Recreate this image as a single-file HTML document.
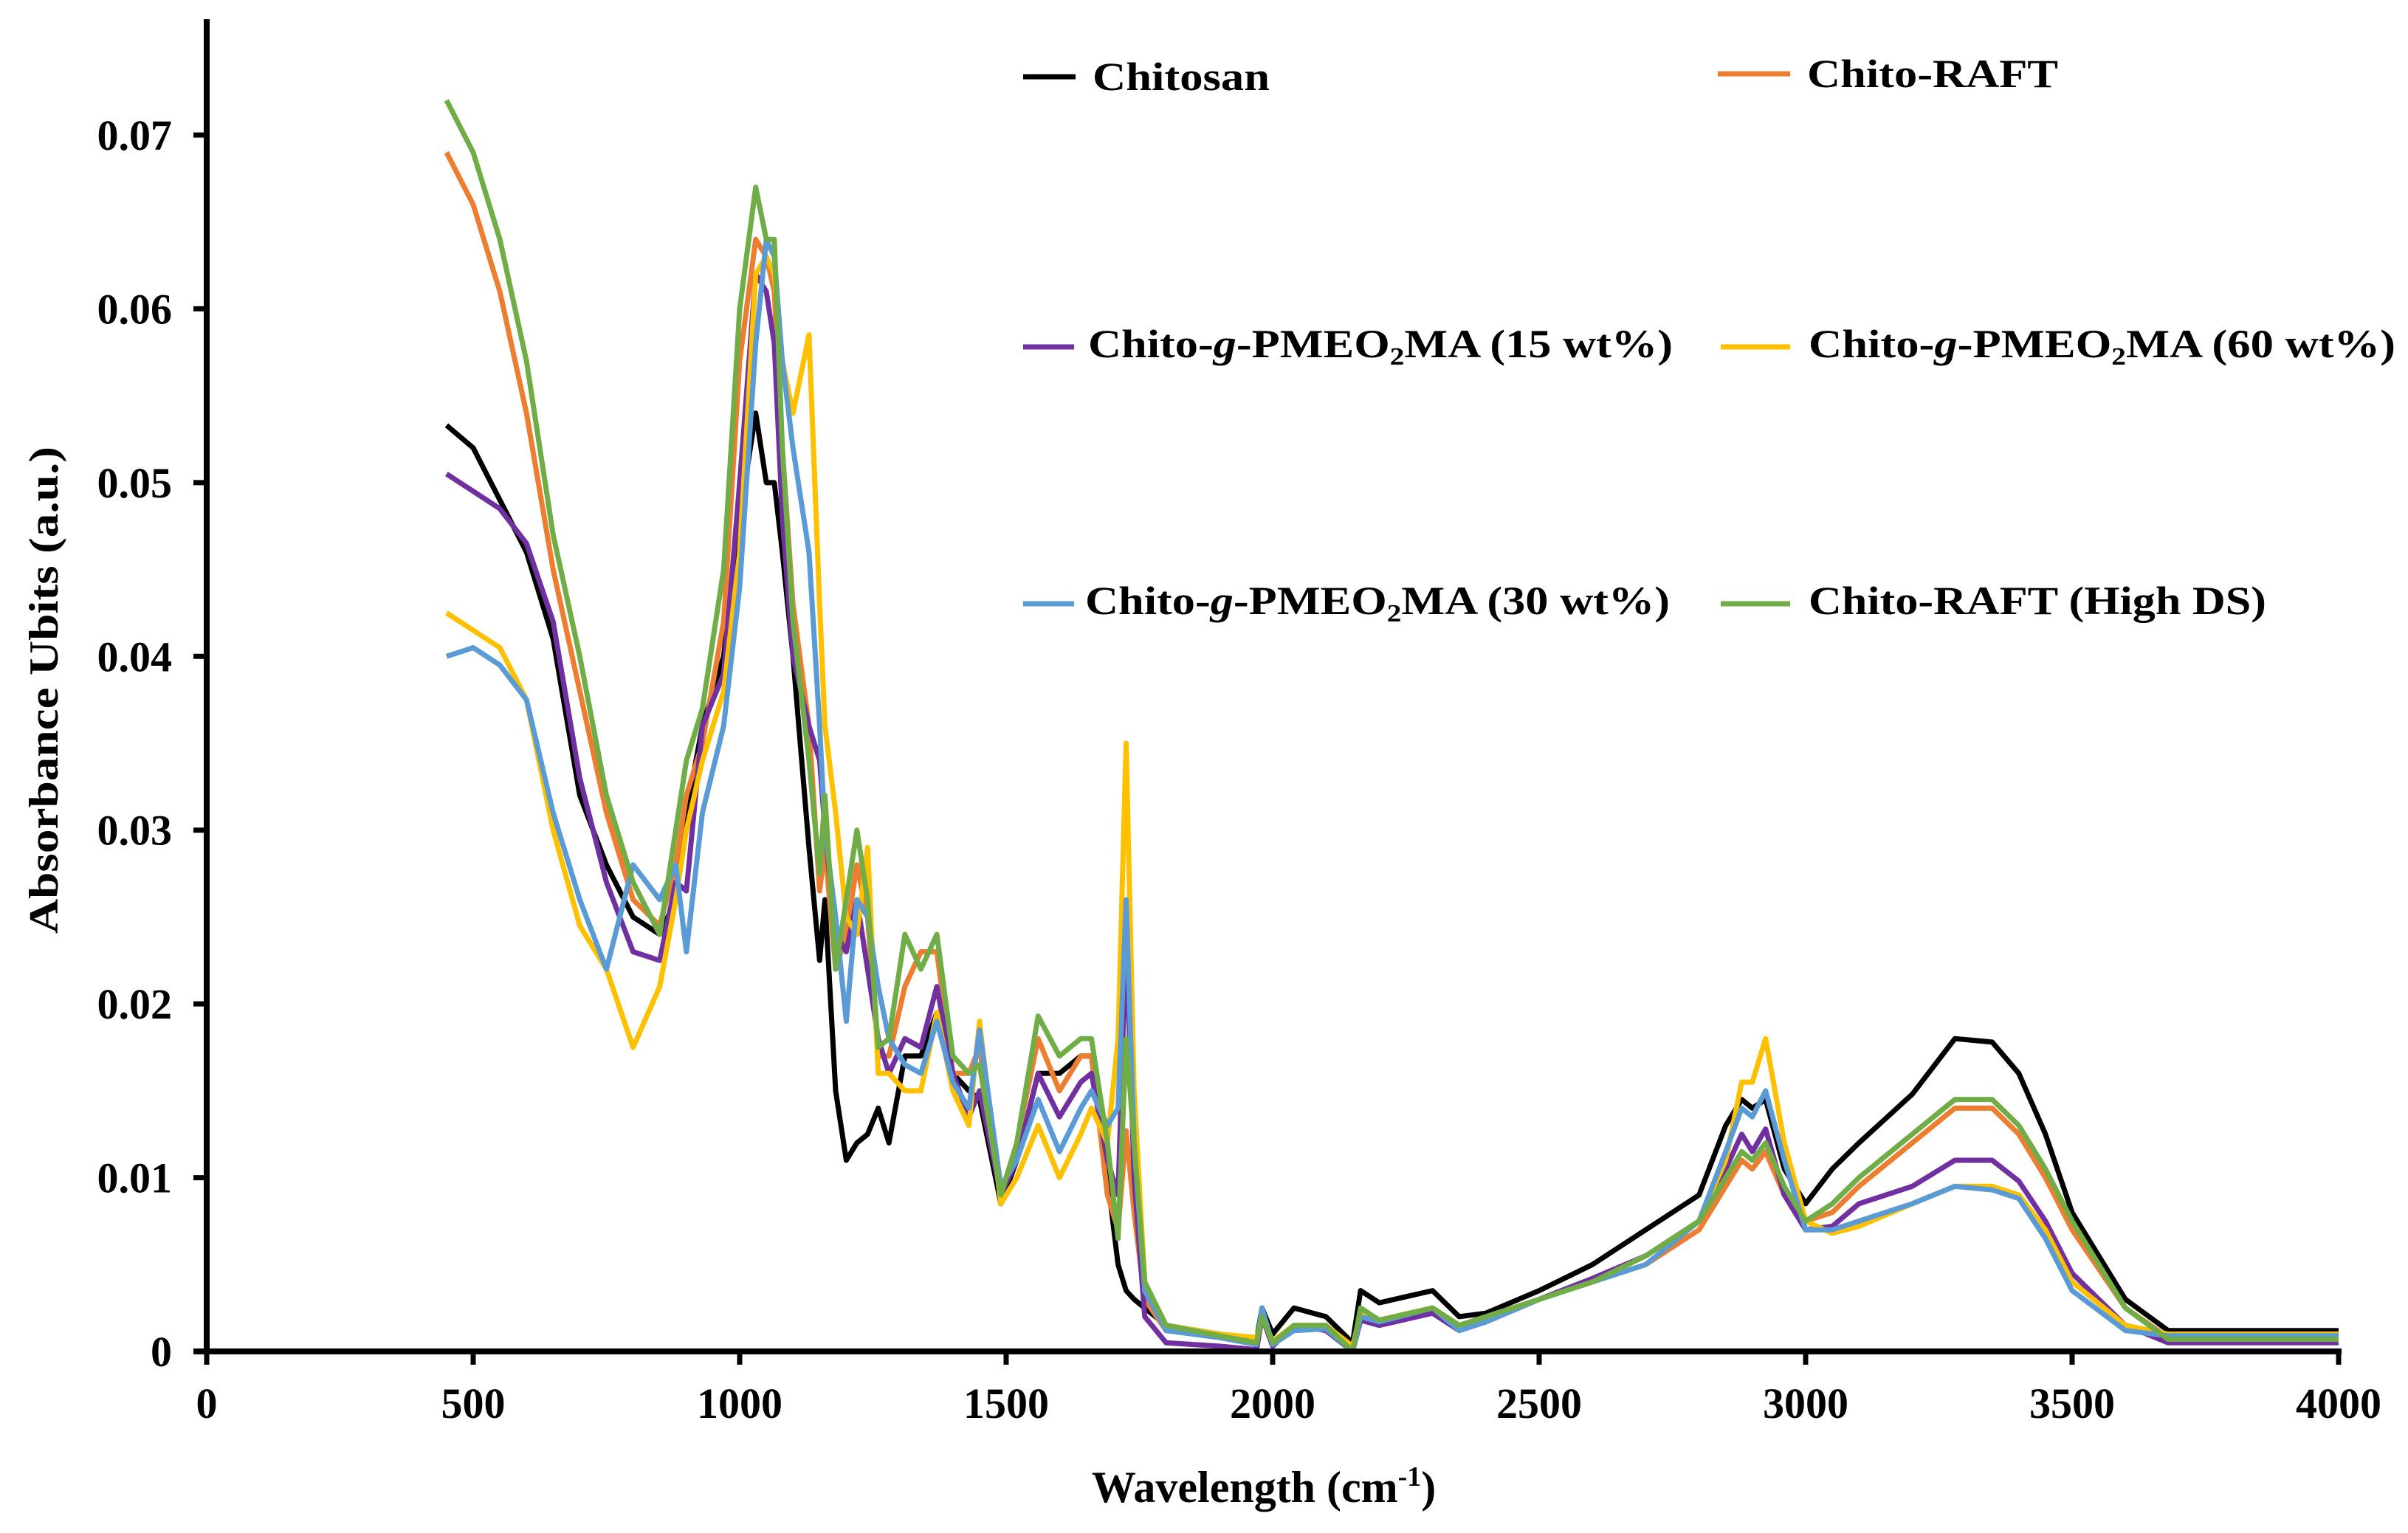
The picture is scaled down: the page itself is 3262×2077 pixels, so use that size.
<!DOCTYPE html>
<html><head><meta charset="utf-8"><style>
html,body{margin:0;padding:0;background:#fff}
svg{display:block}
text{font-family:"Liberation Serif",serif;font-weight:bold;fill:#000}
</style></head><body>
<svg id="chart" width="3262" height="2077" viewBox="0 0 3262 2077" xmlns="http://www.w3.org/2000/svg">
<g id="series"></g>
<g id="axes"></g>
<g id="legend">
  <line x1="1386" y1="104" x2="1457" y2="104" stroke="#000" stroke-width="7"/>
  <text x="1480" y="122" font-size="54" textLength="240" lengthAdjust="spacingAndGlyphs">Chitosan</text>
  <line x1="2327" y1="100" x2="2425" y2="100" stroke="#ED7D31" stroke-width="7"/>
  <text x="2448" y="118" font-size="54" textLength="340" lengthAdjust="spacingAndGlyphs">Chito-RAFT</text>
  <line x1="1386" y1="470" x2="1455" y2="470" stroke="#7030A0" stroke-width="7"/>
  <text x="1474" y="484" font-size="54" textLength="792" lengthAdjust="spacingAndGlyphs">Chito-<tspan font-style="italic">g</tspan>-PMEO<tspan font-size="34" dy="10">2</tspan><tspan dy="-10">MA (15 wt%)</tspan></text>
  <line x1="2331" y1="470" x2="2425" y2="470" stroke="#FFC000" stroke-width="7"/>
  <text x="2450" y="484" font-size="54" textLength="795" lengthAdjust="spacingAndGlyphs">Chito-<tspan font-style="italic">g</tspan>-PMEO<tspan font-size="34" dy="10">2</tspan><tspan dy="-10">MA (60 wt%)</tspan></text>
  <line x1="1386" y1="818" x2="1455" y2="818" stroke="#5B9BD5" stroke-width="7"/>
  <text x="1470" y="832" font-size="54" textLength="792" lengthAdjust="spacingAndGlyphs">Chito-<tspan font-style="italic">g</tspan>-PMEO<tspan font-size="34" dy="10">2</tspan><tspan dy="-10">MA (30 wt%)</tspan></text>
  <line x1="2331" y1="818" x2="2425" y2="818" stroke="#70AD47" stroke-width="7"/>
  <text x="2450" y="832" font-size="54" textLength="620" lengthAdjust="spacingAndGlyphs">Chito-RAFT (High DS)</text>
</g>
<text x="1712" y="2035" font-size="60" text-anchor="middle">Wavelength (cm<tspan font-size="38" dy="-22">-1</tspan><tspan dy="22">)</tspan></text>
<text transform="translate(78,935) rotate(-90)" font-size="56" text-anchor="middle" textLength="660" lengthAdjust="spacingAndGlyphs">Absorbance Ubits (a.u.)</text>
</svg>
<script>
const wn = [450,500,550,600,650,700,750,800,850,880,900,930,970,1000,1030,1050,1065,1080,1100,1130,1150,1160,1180,1200,1220,1240,1260,1280,1310,1340,1370,1400,1430,1450,1490,1520,1560,1600,1640,1660,1690,1710,1725,1740,1760,1800,1900,1970,1980,2000,2040,2100,2150,2165,2200,2300,2350,2400,2500,2600,2700,2800,2850,2880,2900,2925,2960,3000,3050,3100,3200,3280,3350,3400,3450,3500,3600,3680,3800,4000];
const chitosan = [.0533,.052,.049,.046,.041,.032,.028,.025,.024,.026,.031,.036,.040,.048,.054,.050,.050,.046,.040,.029,.0225,.026,.015,.011,.012,.0125,.014,.012,.017,.017,.0195,.016,.015,.0145,.0085,.011,.016,.016,.017,.017,.010,.005,.0035,.003,.0025,.0015,.001,.0007,.0025,.001,.0025,.002,.0005,.0035,.0028,.0035,.002,.0022,.0035,.005,.007,.009,.013,.0145,.014,.0145,.0105,.0085,.0105,.012,.0148,.018,.0178,.016,.0125,.008,.003,.0012,.0012,.0012];
const chitoRaft = [.069,.066,.061,.054,.045,.038,.031,.026,.0245,.028,.032,.035,.042,.057,.064,.063,.061,.052,.043,.036,.0265,.029,.022,.024,.028,.025,.017,.017,.021,.023,.023,.016,.016,.0175,.009,.012,.018,.015,.017,.017,.009,.007,.0127,.008,.003,.0012,.0008,.0004,.002,.0005,.0015,.0015,0,.002,.0018,.0025,.0015,.002,.003,.004,.005,.007,.0095,.011,.0105,.0115,.009,.0075,.008,.0095,.012,.014,.014,.0125,.010,.007,.0025,.0008,.0008,.0008];
const wt15 = [.0505,.0495,.0485,.0465,.042,.033,.027,.023,.0225,.027,.0265,.036,.039,.050,.062,.061,.058,.048,.040,.036,.034,.030,.024,.023,.026,.022,.018,.016,.018,.0175,.021,.016,.0135,.015,.009,.011,.016,.0135,.0155,.016,.011,.009,.024,.010,.002,.0005,.0003,.0001,.002,.0003,.0015,.0012,0,.0018,.0015,.0022,.0012,.0017,.003,.0042,.0055,.0075,.0105,.0125,.0115,.0128,.009,.007,.0072,.0085,.0095,.011,.011,.0098,.0075,.0045,.0015,.0005,.0005,.0005];
const wt60 = [.0425,.0415,.0405,.0375,.030,.0245,.022,.0175,.021,.026,.030,.034,.038,.046,.062,.063,.062,.057,.054,.0585,.043,.036,.031,.025,.024,.029,.016,.016,.015,.015,.0195,.015,.013,.019,.0085,.010,.013,.010,.0125,.014,.012,.018,.035,.015,.004,.0015,.001,.0008,.002,.0006,.0015,.0015,.0003,.0022,.0018,.0025,.0015,.0018,.003,.004,.005,.0075,.011,.0155,.0155,.018,.012,.0075,.0068,.0072,.0085,.0095,.0095,.009,.007,.004,.0015,.001,.001,.001];
const wt30 = [.040,.0405,.0395,.0375,.031,.026,.022,.028,.026,.028,.023,.031,.036,.044,.058,.064,.063,.057,.052,.046,.036,.030,.025,.019,.026,.025,.021,.018,.0165,.016,.019,.0155,.014,.0185,.0095,.011,.0145,.0115,.014,.015,.013,.014,.026,.012,.0035,.0012,.0008,.0004,.0025,.0004,.0012,.0013,0,.002,.0017,.0025,.0012,.0017,.003,.004,.005,.0075,.0115,.014,.0135,.015,.011,.007,.007,.0075,.0085,.0095,.0093,.0088,.0065,.0035,.0012,.0009,.0009,.0009];
const highDS = [.072,.069,.064,.057,.047,.040,.032,.027,.024,.030,.034,.037,.045,.060,.067,.064,.064,.052,.042,.034,.0275,.032,.022,.026,.030,.026,.0175,.018,.024,.022,.024,.017,.016,.0165,.009,.012,.0193,.017,.018,.018,.012,.0065,.018,.012,.004,.0015,.0009,.0005,.002,.0005,.0015,.0015,0,.0025,.0018,.0025,.0015,.002,.003,.004,.0055,.0075,.010,.0115,.011,.012,.0095,.0075,.0085,.010,.0125,.0145,.0145,.013,.0105,.0075,.0025,.0007,.0007,.0007];
const xTicks = [0,500,1000,1500,2000,2500,3000,3500,4000];
const yTicks = [0,0.01,0.02,0.03,0.04,0.05,0.06,0.07];
const yTickLabels = ["0","0.01","0.02","0.03","0.04","0.05","0.06","0.07"];

const NS = "http://www.w3.org/2000/svg";
const X0 = 280, X1 = 3168, Y0 = 1831, Y7 = 183;
function xs(v){ return X0 + (v/4000)*(X1-X0); }
function ys(v){ return Y0 - (v/0.07)*(Y0-Y7); }

const seriesList = [
  {name:'series-chitosan', vals:chitosan, color:'#000000'},
  {name:'series-chito-raft', vals:chitoRaft, color:'#ED7D31'},
  {name:'series-15wt', vals:wt15, color:'#7030A0'},
  {name:'series-60wt', vals:wt60, color:'#FFC000'},
  {name:'series-30wt', vals:wt30, color:'#5B9BD5'},
  {name:'series-high-ds', vals:highDS, color:'#70AD47'}
];
const sg = document.getElementById('series');
seriesList.forEach(s => {
  const p = document.createElementNS(NS,'path');
  let d = '';
  s.vals.forEach((v,i) => { d += (i?'L':'M') + xs(wn[i]).toFixed(1) + ',' + ys(v).toFixed(1); });
  p.setAttribute('d', d);
  p.setAttribute('fill','none');
  p.setAttribute('stroke', s.color);
  p.setAttribute('stroke-width','7');
  p.setAttribute('stroke-linejoin','round');
  
  
  sg.appendChild(p);
});

const ag = document.getElementById('axes');
function mk(tag, attrs){ const e = document.createElementNS(NS,tag); for (const k in attrs) e.setAttribute(k, attrs[k]); ag.appendChild(e); return e; }
const yAxis = mk('line',{x1:X0,y1:26,x2:X0,y2:Y0+4,stroke:'#000','stroke-width':8});


const xAxis = mk('line',{x1:X0-18,y1:Y0,x2:X1+4,y2:Y0,stroke:'#000','stroke-width':8});


xTicks.forEach(t => {
  const tk = mk('line',{x1:xs(t),y1:Y0,x2:xs(t),y2:Y0+18,stroke:'#000','stroke-width':7});
  
  
  const lb = mk('text',{x:xs(t),y:Y0+90,'font-size':58,'text-anchor':'middle'});
  lb.textContent = String(t);
  
  
});
yTicks.forEach((t,i) => {
  const tk = mk('line',{x1:X0-18,y1:ys(t),x2:X0,y2:ys(t),stroke:'#000','stroke-width':7});
  
  
  const lb = mk('text',{x:233,y:ys(t)+20,'font-size':58,'text-anchor':'end'});
  lb.textContent = yTickLabels[i];
  
  
});
</script>
</body></html>
